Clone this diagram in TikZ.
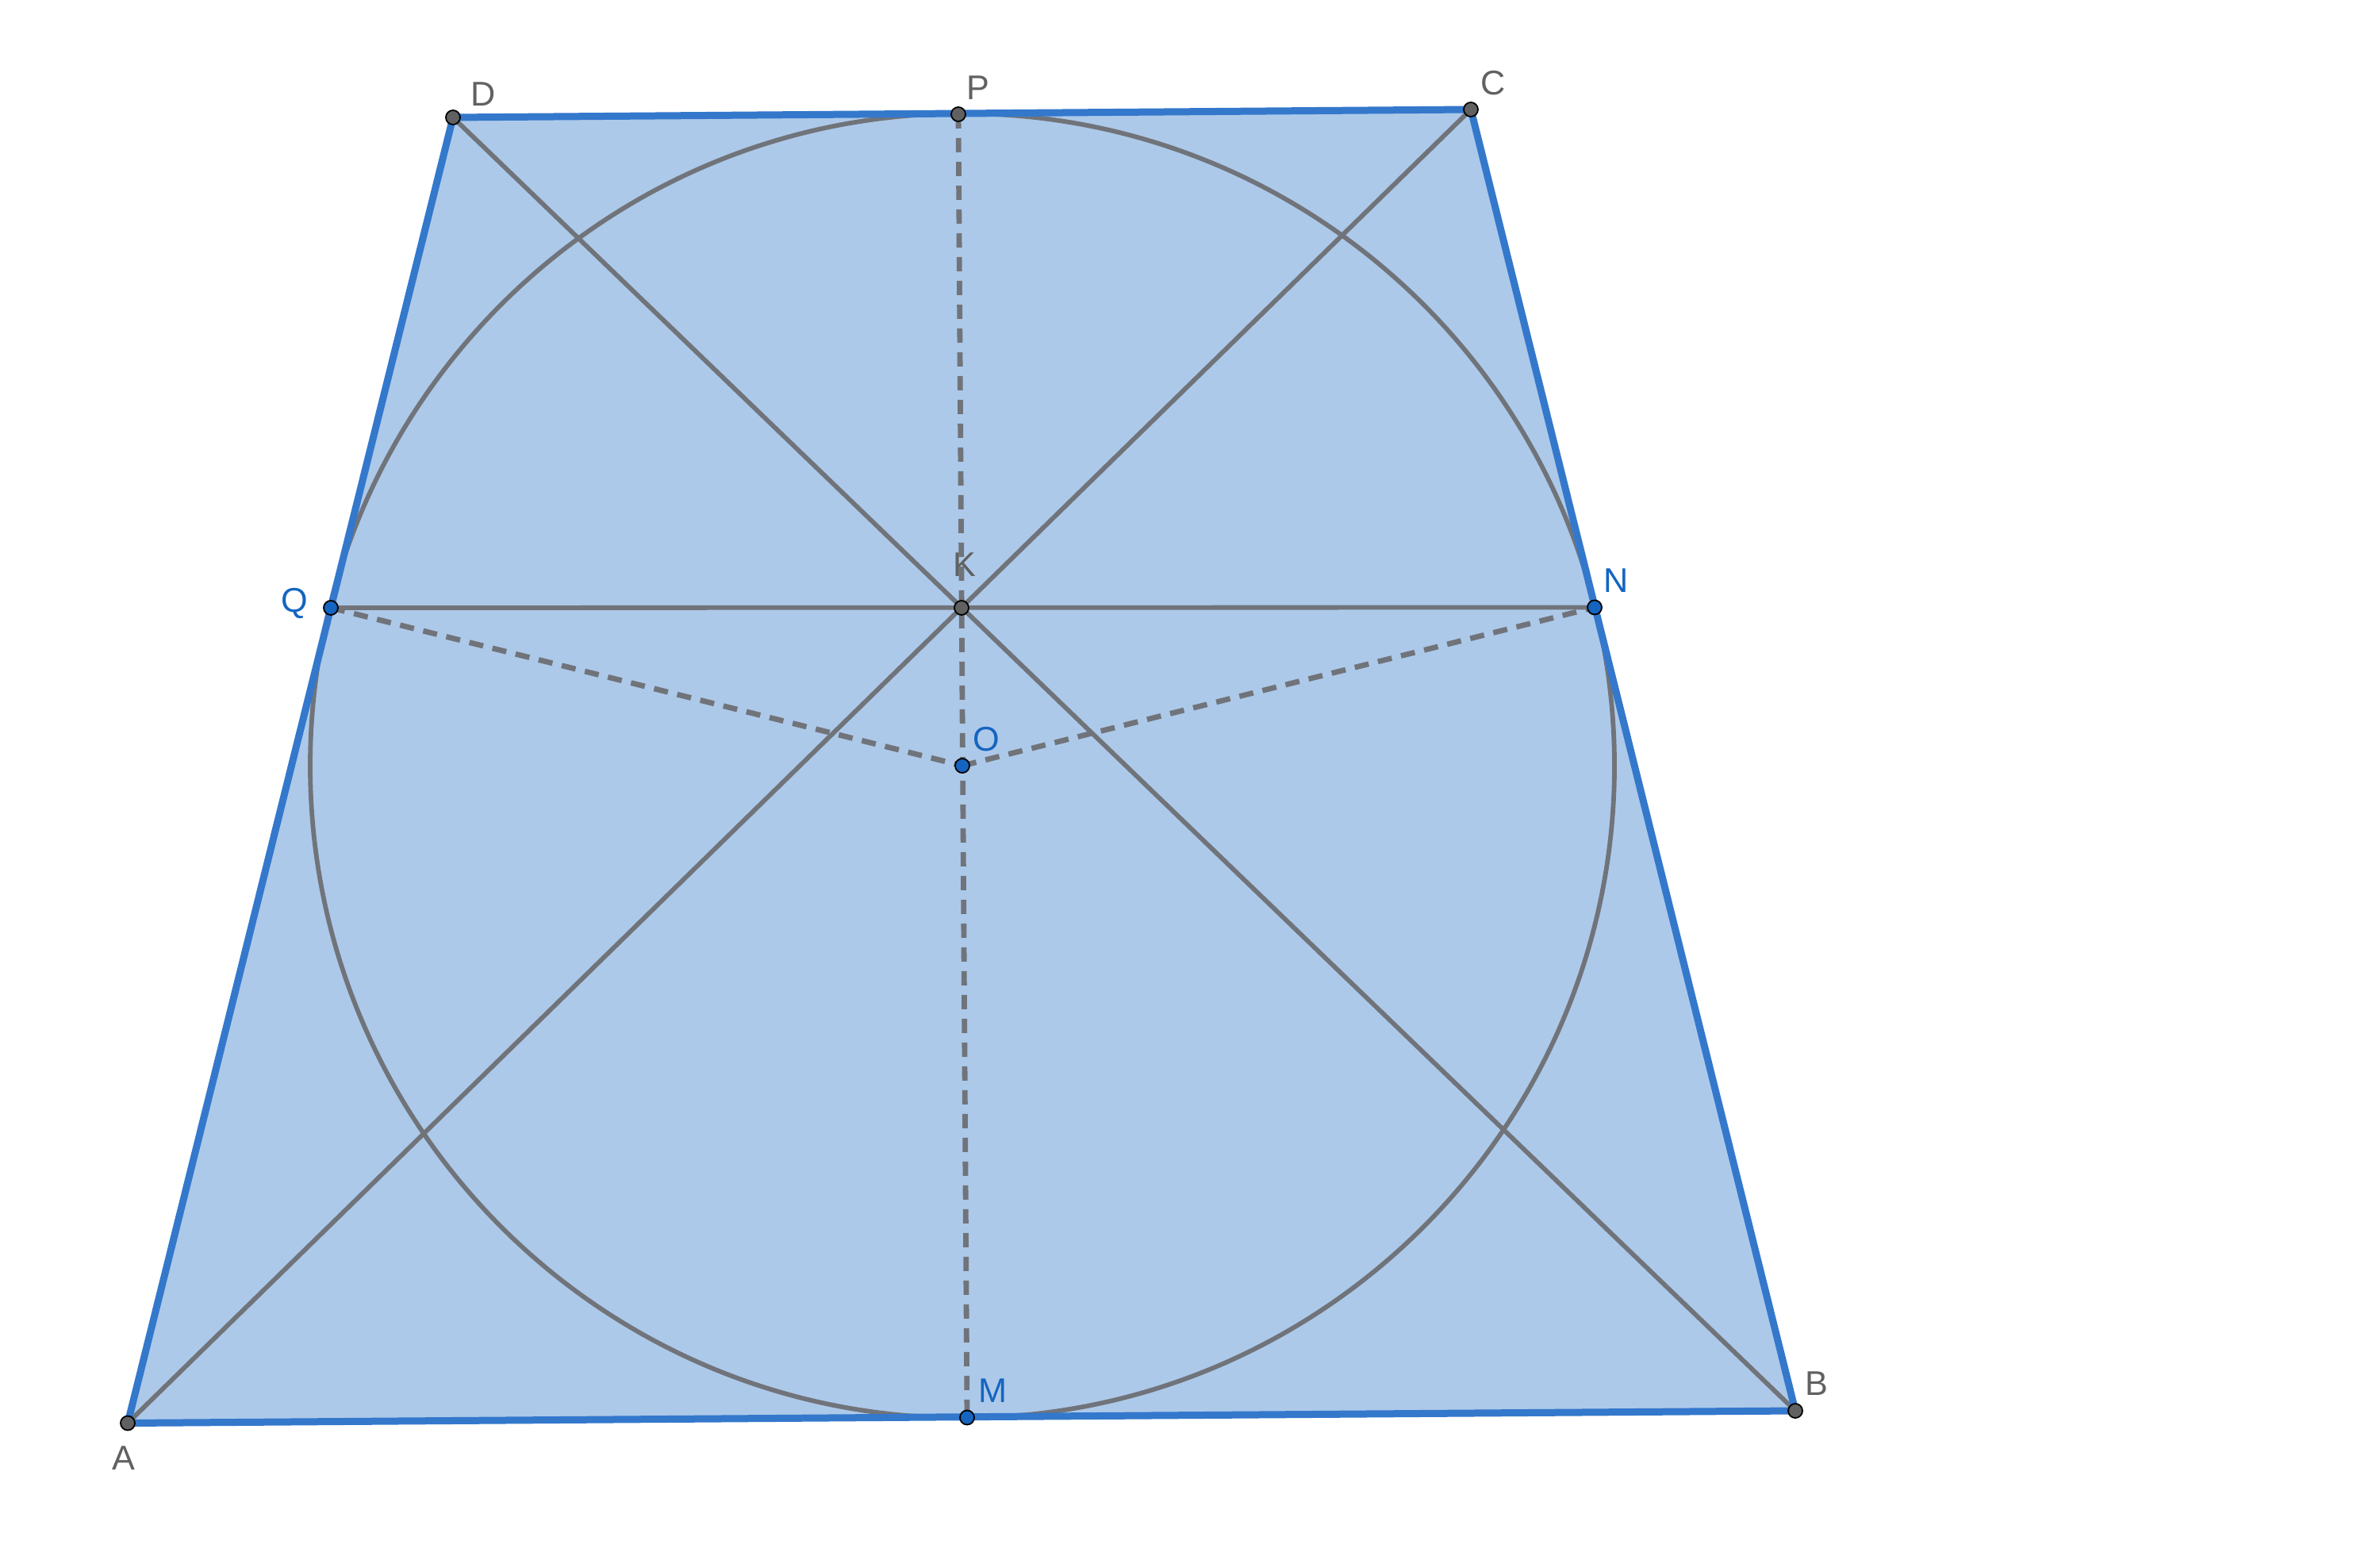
\documentclass[tikz,border=0pt]{standalone}
\usepackage{fontspec}
\setmainfont{Liberation Sans}
\definecolor{ggblue}{RGB}{21,101,192}
\definecolor{edgeblue}{RGB}{52,120,204}
\definecolor{fillblue}{RGB}{173,201,233}
\definecolor{lgrey}{RGB}{112,116,122}
\definecolor{pgrey}{RGB}{97,97,97}
\tikzset{
  side/.style={draw=edgeblue, line width=0.09cm, line cap=round, line join=round},
  seg/.style={draw=lgrey, line width=0.058cm},
  dseg/.style={draw=lgrey, line width=0.068cm, dash pattern=on 0.18cm off 0.12cm},
  circ/.style={draw=lgrey, line width=0.058cm},
  gpt/.style={circle, fill=pgrey, draw=black, line width=0.018cm, inner sep=0pt, minimum size=0.18cm},
  bpt/.style={circle, fill=ggblue, draw=black, line width=0.018cm, inner sep=0pt, minimum size=0.18cm},
  glab/.style={text=pgrey, font=\fontsize{12.3}{13}\selectfont, inner sep=0pt},
  blab/.style={text=ggblue, font=\fontsize{12.3}{13}\selectfont, inner sep=0pt}
}
\begin{document}
\begin{tikzpicture}
\useasboundingbox[fill=white] (0,0) rectangle (30,-19.61);
% points
\coordinate (A) at (1.61,-17.935);
\coordinate (B) at (22.63,-17.78);
\coordinate (C) at (18.54,-1.38);
\coordinate (D) at (5.71,-1.48);
\coordinate (P) at (12.08,-1.44);
\coordinate (M) at (12.19,-17.865);
\coordinate (Q) at (4.17,-7.66);
\coordinate (K) at (12.12,-7.66);
\coordinate (N) at (20.10,-7.655);
\coordinate (O) at (12.13,-9.65);
% fill
\fill[fillblue] (A) -- (B) -- (C) -- (D) -- cycle;
% circle
\draw[circ] (O) circle[radius=8.22];
% segments
\draw[seg] (A) -- (C);
\draw[seg] (B) -- (D);
\draw[seg] (Q) -- (N);
\draw[dseg] (P) -- (M);
\draw[dseg] (Q) -- (O);
\draw[dseg] (O) -- (N);
% sides
\draw[side] (A) -- (B) -- (C) -- (D) -- cycle;
% point marks
\node[gpt] (dA) at (A) {};
\node[gpt] (dB) at (B) {};
\node[gpt] (dC) at (C) {};
\node[gpt] (dD) at (D) {};
\node[gpt] (dP) at (P) {};
\node[gpt] (dK) at (K) {};
\node[bpt] (dM) at (M) {};
\node[bpt] (dQ) at (Q) {};
\node[bpt] (dN) at (N) {};
\node[bpt] (dO) at (O) {};
% labels
\node[glab] (lD) at (6.09,-1.19) {D};
\node[glab] (lP) at (12.33,-1.11) {P};
\node[glab] (lC) at (18.82,-1.05) {C};
\node[glab] (lA) at (1.56,-18.38) {A};
\node[glab] (lB) at (22.90,-17.44) {B};
\node[blab] (lM) at (12.51,-17.53) {M};
\node[glab] (lK) at (12.16,-7.12) {K};
\node[blab] (lN) at (20.37,-7.32) {N};
\node[blab] (lQ) at (3.71,-7.60) {Q};
\node[blab] (lO) at (12.43,-9.32) {O};
\end{tikzpicture}
\end{document}
